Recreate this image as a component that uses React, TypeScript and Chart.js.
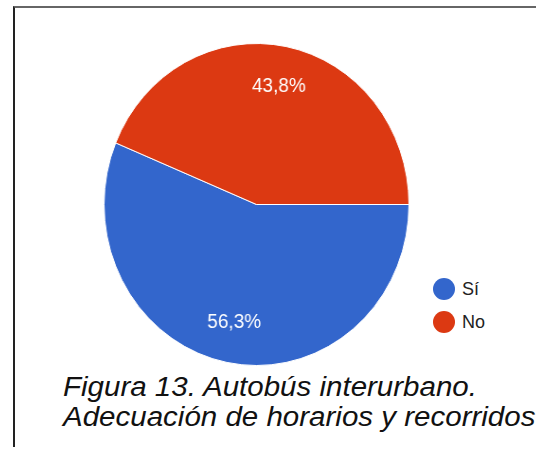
import React, { useEffect, useRef } from "react";
import { Chart, registerables } from "chart.js";

Chart.register(...registerables);

const categories = ["Sí", "No"];
const values = [56.25, 43.75];
const valueLabels = ["56,3%", "43,8%"];
const colors = ["#3366CC", "#DC3912"];
const captionLines = ["Figura 13. Autobús interurbano.", "Adecuación de horarios y recorridos"];

const FONT = '"Liberation Sans", Arial, Helvetica, sans-serif';

const labelPlugin = {
  id: "sliceLabels",
  afterDatasetsDraw(chart: any) {
    const ctx = chart.ctx;
    const meta = chart.getDatasetMeta(0);
    ctx.save();
    ctx.fillStyle = "#ffffff";
    ctx.font = `20px ${FONT}`;
    ctx.textAlign = "center";
    ctx.textBaseline = "middle";
    meta.data.forEach((arc: any, i: number) => {
      const p = arc.getProps(["x", "y", "startAngle", "endAngle", "outerRadius"], true);
      const mid = (p.startAngle + p.endAngle) / 2;
      const r = p.outerRadius * 0.75;
      ctx.fillText(valueLabels[i], p.x + Math.cos(mid) * r, p.y + Math.sin(mid) * r);
    });
    ctx.restore();
  },
};

export default function App() {
  const ref = useRef<HTMLCanvasElement | null>(null);
  useEffect(() => {
    if (!ref.current) return;
    const chart = new Chart(ref.current, {
      type: "pie",
      data: {
        labels: categories,
        datasets: [
          {
            data: values,
            backgroundColor: colors,
            borderColor: "#ffffff",
            borderWidth: 1,
          },
        ],
      },
      options: {
        animation: false,
        responsive: true,
        maintainAspectRatio: false,
        rotation: 90,
        layout: { padding: 0 },
        plugins: {
          legend: { display: false },
          tooltip: { enabled: false },
        },
      },
      plugins: [labelPlugin],
    });
    return () => chart.destroy();
  }, []);

  return (
    <div
      style={{
        position: "fixed",
        left: 0,
        top: 0,
        width: 536,
        height: 449,
        background: "#ffffff",
        overflow: "hidden",
        fontFamily: FONT,
      }}
    >
      <div
        style={{
          position: "absolute",
          left: 13,
          top: 6,
          width: 600,
          height: 441,
          borderTop: "2px solid #666",
          borderLeft: "2px solid #222",
          boxSizing: "border-box",
        }}
      />
      <div
        style={{
          position: "absolute",
          left: 95,
          top: 43,
          width: 323,
          height: 323,
          transform: "scaleX(0.947)",
          transformOrigin: "50% 50%",
        }}
      >
        <canvas ref={ref} />
      </div>
      {categories.map((c, i) => (
        <div
          key={c}
          style={{
            position: "absolute",
            left: 433,
            top: 278 + i * 33,
            height: 22,
            display: "flex",
            alignItems: "center",
          }}
        >
          <span
            style={{
              display: "inline-block",
              width: 22,
              height: 22,
              borderRadius: "50%",
              background: colors[i],
            }}
          />
          <span style={{ marginLeft: 7, fontSize: 18, color: "#222", lineHeight: "22px" }}>{c}</span>
        </div>
      ))}
      <div
        style={{
          position: "absolute",
          left: 63,
          top: 372,
          fontSize: 27,
          lineHeight: "30px",
          fontStyle: "italic",
          color: "#111",
          whiteSpace: "nowrap",
          transform: "scaleX(1.093)",
          transformOrigin: "0 0",
        }}
      >
        {captionLines.map((l) => (
          <div key={l}>{l}</div>
        ))}
      </div>
    </div>
  );
}
